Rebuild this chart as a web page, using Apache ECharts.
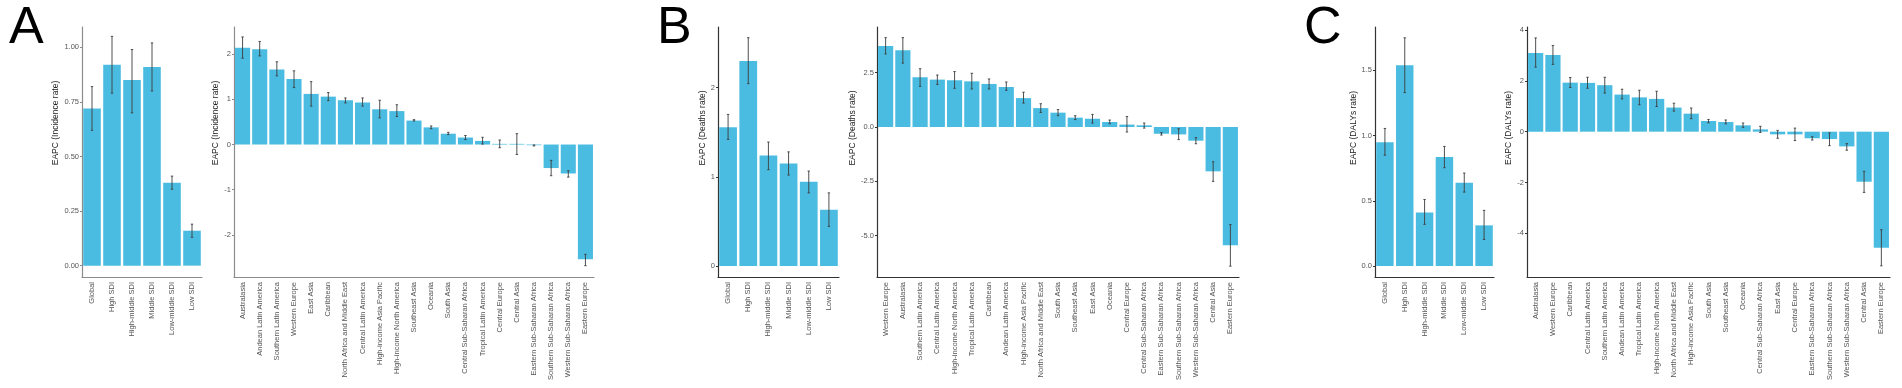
<!DOCTYPE html>
<html>
<head>
<meta charset="utf-8">
<script src="https://cdn.jsdelivr.net/npm/echarts@6/dist/echarts.min.js"></script>
<style>
html, body { margin: 0; padding: 0; background: #fff; }
#main { width: 1902px; height: 388px; }
</style>
</head>
<body>
<div id="main"></div>
<script>
// SDI groups (same order in all three panels)
var sdiNames = ['Global', 'High SDI', 'High-middle SDI', 'Middle SDI', 'Low-middle SDI', 'Low SDI'];

// A: incidence
var incSdi   = [0.72, 0.92, 0.85, 0.91, 0.38, 0.16];
var incSdiLo = [0.62, 0.79, 0.70, 0.80, 0.35, 0.13];
var incSdiHi = [0.82, 1.05, 0.99, 1.02, 0.41, 0.19];
var incRegions = ['Australasia', 'Andean Latin America', 'Southern Latin America', 'Western Europe', 'East Asia',
  'Caribbean', 'North Africa and Middle East', 'Central Latin America', 'High-income Asia Pacific',
  'High-income North America', 'Southeast Asia', 'Oceania', 'South Asia', 'Central Sub-Saharan Africa',
  'Tropical Latin America', 'Central Europe', 'Central Asia', 'Eastern Sub-Saharan Africa',
  'Southern Sub-Saharan Africa', 'Western Sub-Saharan Africa', 'Eastern Europe'];
var incReg   = [2.14, 2.11, 1.66, 1.45, 1.12, 1.06, 0.98, 0.93, 0.78, 0.74, 0.53, 0.38, 0.24, 0.155, 0.08, 0.015, 0.015, -0.015, -0.52, -0.64, -2.54];
var incRegLo = [1.91, 1.96, 1.52, 1.26, 0.85, 0.97, 0.92, 0.85, 0.59, 0.62, 0.52, 0.35, 0.22, 0.11, 0.01, -0.07, -0.22, -0.03, -0.69, -0.72, -2.68];
var incRegHi = [2.38, 2.28, 1.83, 1.63, 1.39, 1.15, 1.03, 1.03, 0.98, 0.88, 0.55, 0.41, 0.27, 0.20, 0.16, 0.10, 0.24, -0.01, -0.35, -0.58, -2.43];

// B: deaths
var deaSdi   = [1.555, 2.30, 1.24, 1.15, 0.946, 0.63];
var deaSdiLo = [1.42, 2.045, 1.08, 1.02, 0.82, 0.445];
var deaSdiHi = [1.70, 2.56, 1.39, 1.28, 1.065, 0.82];
var deaRegions = ['Western Europe', 'Australasia', 'Southern Latin America', 'Central Latin America',
  'High-income North America', 'Tropical Latin America', 'Caribbean', 'Andean Latin America',
  'High-income Asia Pacific', 'North Africa and Middle East', 'South Asia', 'Southeast Asia', 'East Asia',
  'Oceania', 'Central Europe', 'Central Sub-Saharan Africa', 'Eastern Sub-Saharan Africa',
  'Southern Sub-Saharan Africa', 'Western Sub-Saharan Africa', 'Central Asia', 'Eastern Europe'];
var deaReg   = [3.73, 3.53, 2.29, 2.18, 2.15, 2.10, 1.98, 1.84, 1.33, 0.87, 0.66, 0.43, 0.38, 0.23, 0.11, 0.077, -0.31, -0.34, -0.63, -2.04, -5.44];
var deaRegLo = [3.36, 2.94, 1.87, 1.96, 1.78, 1.75, 1.75, 1.69, 1.10, 0.67, 0.52, 0.34, 0.18, 0.15, -0.23, -0.05, -0.37, -0.58, -0.77, -2.50, -6.40];
var deaRegHi = [4.11, 4.11, 2.68, 2.39, 2.55, 2.47, 2.21, 2.07, 1.60, 1.07, 0.80, 0.52, 0.58, 0.32, 0.48, 0.18, -0.26, -0.08, -0.49, -1.60, -4.49];

// C: DALYs
var dalSdi   = [0.95, 1.54, 0.41, 0.836, 0.639, 0.312];
var dalSdiLo = [0.85, 1.33, 0.32, 0.754, 0.567, 0.204];
var dalSdiHi = [1.055, 1.75, 0.51, 0.917, 0.713, 0.427];
var dalRegions = ['Australasia', 'Western Europe', 'Caribbean', 'Central Latin America', 'Southern Latin America',
  'Andean Latin America', 'Tropical Latin America', 'High-income North America', 'North Africa and Middle East',
  'High-income Asia Pacific', 'South Asia', 'Southeast Asia', 'Oceania', 'Central Sub-Saharan Africa', 'East Asia',
  'Central Europe', 'Eastern Sub-Saharan Africa', 'Southern Sub-Saharan Africa', 'Western Sub-Saharan Africa',
  'Central Asia', 'Eastern Europe'];
var dalReg   = [3.10, 3.02, 1.93, 1.92, 1.83, 1.46, 1.35, 1.29, 0.95, 0.71, 0.42, 0.38, 0.25, 0.09, -0.105, -0.105, -0.26, -0.29, -0.58, -1.97, -4.57];
var dalRegLo = [2.54, 2.65, 1.74, 1.71, 1.52, 1.29, 1.06, 0.99, 0.81, 0.51, 0.35, 0.31, 0.17, -0.03, -0.26, -0.35, -0.33, -0.55, -0.73, -2.39, -5.28];
var dalRegHi = [3.69, 3.39, 2.13, 2.14, 2.14, 1.67, 1.63, 1.59, 1.12, 0.93, 0.48, 0.46, 0.34, 0.21, 0.05, 0.14, -0.20, -0.05, -0.47, -1.56, -3.86];

// y tick labels
var ticksA1 = [0, 0.25, 0.5, 0.75, 1];
var ticksA2 = [-2, -1, 0, 1, 2];
var ticksB1 = [0, 1, 2];
var ticksB2 = [-5, -2.5, 0, 2.5];
var ticksC1 = [0, 0.5, 1, 1.5];
var ticksC2 = [-4, -2, 0, 2, 4];

var barColor = '#4bbce1';

var panels = [
  {cats: sdiNames,   v: incSdi, lo: incSdiLo, hi: incSdiHi, ticks: ticksA1, dec: 2, min: -0.052, max: 1.093,
   name: 'EAPC (Incidence rate)', left: 82, width: 120, gap: 13, shift: 29, axisColor: '#8c8c8c'},
  {cats: incRegions, v: incReg, lo: incRegLo, hi: incRegHi, ticks: ticksA2, dec: 0, min: -2.93, max: 2.6,
   name: 'EAPC (Incidence rate)', left: 234, width: 360, gap: 11, shift: 29, axisColor: '#8c8c8c'},
  {cats: sdiNames,   v: deaSdi, lo: deaSdiLo, hi: deaSdiHi, ticks: ticksB1, dec: 0, min: -0.123, max: 2.68,
   name: 'EAPC (Deaths rate)', left: 718, width: 121, gap: 3, shift: 24, axisColor: '#333'},
  {cats: deaRegions, v: deaReg, lo: deaRegLo, hi: deaRegHi, ticks: ticksB2, dec: 1, min: -6.9, max: 4.6,
   name: 'EAPC (Deaths rate)', left: 877, width: 362, gap: 15, shift: 24, axisColor: '#333'},
  {cats: sdiNames,   v: dalSdi, lo: dalSdiLo, hi: dalSdiHi, ticks: ticksC1, dec: 1, min: -0.084, max: 1.833,
   name: 'EAPC (DALYs rate)', left: 1375, width: 119, gap: 10, shift: 24, axisColor: '#333'},
  {cats: dalRegions, v: dalReg, lo: dalRegLo, hi: dalRegHi, ticks: ticksC2, dec: 0, min: -5.72, max: 4.12,
   name: 'EAPC (DALYs rate)', left: 1527, width: 363, gap: 10, shift: 24, axisColor: '#333'}
];

function renderErr(params, api) {
  var x = api.value(0);
  var p1 = api.coord([x, api.value(1)]);
  var p2 = api.coord([x, api.value(2)]);
  var st = {stroke: '#3c3c3c', lineWidth: 0.9};
  return {
    type: 'group',
    children: [
      {type: 'line', shape: {x1: p1[0], y1: p1[1], x2: p2[0], y2: p2[1]}, style: st},
      {type: 'line', shape: {x1: p1[0] - 1.2, y1: p1[1], x2: p1[0] + 1.2, y2: p1[1]}, style: st},
      {type: 'line', shape: {x1: p2[0] - 1.2, y1: p2[1], x2: p2[0] + 1.2, y2: p2[1]}, style: st}
    ]
  };
}

var grids = [], xAxes = [], yAxes = [], series = [];
panels.forEach(function (p, i) {
  grids.push({left: p.left, top: 27, width: p.width, height: 250});
  xAxes.push({
    type: 'category', gridIndex: i, data: p.cats,
    axisLine: {onZero: false, lineStyle: {color: p.axisColor, width: 1.2}},
    axisTick: {alignWithLabel: true, length: 3, lineStyle: {color: p.axisColor}},
    axisLabel: {rotate: 90, interval: 0, margin: 5, fontSize: 7.5, color: '#555', fontFamily: 'Liberation Sans'},
    splitLine: {show: false}
  });
  yAxes.push({
    type: 'value', gridIndex: i, min: p.min, max: p.max,
    name: p.name, nameLocation: 'middle', nameRotate: 90, nameGap: p.gap,
    nameTextStyle: {fontSize: 8.5, color: '#222', fontFamily: 'Liberation Sans', padding: [0, 0, 0, p.shift * 2]},
    axisLine: {show: true, lineStyle: {color: p.axisColor, width: 1.2}},
    axisTick: {show: true, length: 2, customValues: p.ticks, lineStyle: {color: p.axisColor}},
    axisLabel: {customValues: p.ticks, margin: 3, fontSize: 7.5, color: '#555', fontFamily: 'Liberation Sans',
      formatter: (function (d) { return function (val) { return val.toFixed(d); }; })(p.dec)},
    splitLine: {show: false}
  });
  series.push({
    type: 'bar', xAxisIndex: i, yAxisIndex: i, data: p.v,
    barCategoryGap: '12%', itemStyle: {color: barColor}, silent: true
  });
  series.push({
    type: 'custom', xAxisIndex: i, yAxisIndex: i, z: 5,
    data: p.v.map(function (_, j) { return [j, p.lo[j], p.hi[j]]; }),
    renderItem: renderErr, silent: true
  });
});

var chart = echarts.init(document.getElementById('main'), null, {renderer: 'canvas'});
chart.setOption({
  animation: false,
  backgroundColor: '#fff',
  title: [
    {text: 'A', left: 4, top: -2, textStyle: {fontSize: 52, fontWeight: 'normal', color: '#000', fontFamily: 'Liberation Sans'}},
    {text: 'B', left: 652, top: -2, textStyle: {fontSize: 52, fontWeight: 'normal', color: '#000', fontFamily: 'Liberation Sans'}},
    {text: 'C', left: 1299, top: -2, textStyle: {fontSize: 52, fontWeight: 'normal', color: '#000', fontFamily: 'Liberation Sans'}}
  ],
  grid: grids,
  xAxis: xAxes,
  yAxis: yAxes,
  series: series
});
</script>
</body>
</html>
